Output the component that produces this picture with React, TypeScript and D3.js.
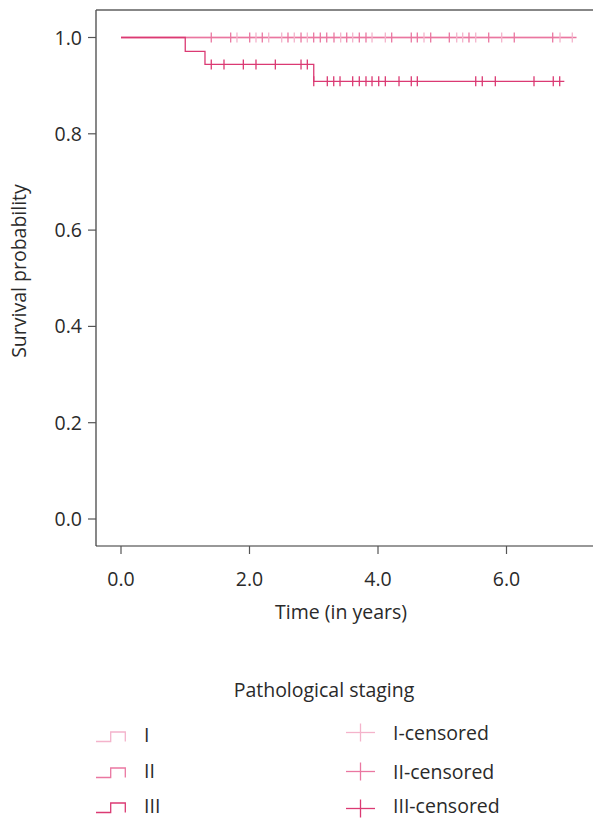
import React from "react";
import * as d3 from "d3";

// ---- data ----
const stageNames = ["I", "II", "III"];
const stageColors = ["#f4b3cb", "#ea77a1", "#db3a73"];

// step changes: [time, survival after]
const stageISteps: [number, number][] = [[0, 1.0]];
const stageIISteps: [number, number][] = [[0, 1.0]];
const stageIIISteps: [number, number][] = [
  [0, 1.0],
  [1.0, 0.971],
  [1.307, 0.944],
  [3.0, 0.909],
];
const stageEnd = [7.024, 7.09, 6.9];

const stageICensored = [
  1.805, 2.101, 2.299, 2.501, 2.697, 2.9, 3.419, 3.606, 3.907, 4.114, 4.716,
  5.225, 5.318, 5.521, 5.925, 6.833, 7.024,
];
const stageIICensored = [
  1.405, 1.707, 2.003, 2.199, 2.599, 2.802, 2.999, 3.102, 3.202, 3.315, 3.513,
  3.709, 3.813, 4.213, 4.518, 4.612, 4.82, 5.11, 5.416, 5.723, 6.121, 6.719,
];
const stageIIICensored = [
  1.405, 1.603, 1.904, 2.101, 2.402, 2.802, 2.9, 3.0, 3.211, 3.311, 3.409,
  3.606, 3.709, 3.813, 3.907, 4.011, 4.114, 4.327, 4.518, 4.612, 5.521, 5.623,
  5.826, 6.428, 6.728, 6.828,
];

const xTicks = [0, 2, 4, 6];
const yTicks = [0, 0.2, 0.4, 0.6, 0.8, 1.0];

const FONT = "'Open Sans', 'Noto Sans', sans-serif";
const TXT = "#2a2a2a";

function survAt(steps: [number, number][], t: number) {
  let s = steps[0][1];
  for (const [st, sv] of steps) if (st <= t) s = sv;
  return s;
}

export default function App() {
  const W = 593;
  const H = 819;
  const frame = { left: 96, right: 593, top: 10, bottom: 546 };
  const x = d3.scaleLinear().domain([0, 6]).range([121, 506.5]);
  const y = d3.scaleLinear().domain([0, 1]).range([519, 37.5]);

  const allSteps = [stageISteps, stageIISteps, stageIIISteps];
  const allCens = [stageICensored, stageIICensored, stageIIICensored];

  const line = d3
    .line<[number, number]>()
    .x((d) => x(d[0]))
    .y((d) => y(d[1]))
    .curve(d3.curveStepAfter);

  const paths = allSteps.map((steps, i) => {
    const pts: [number, number][] = steps.map((s) => [s[0], s[1]]);
    pts.push([stageEnd[i], steps[steps.length - 1][1]]);
    return line(pts) || "";
  });

  const fs = 19.5;
  const tstyle: React.CSSProperties = { fontFamily: FONT, fontSize: fs };
  const legendRows = [741.5, 777.5, 812.5];
  const legendMid = [732.5, 771.5, 808.5];

  return (
    <svg
      width={W}
      height={H}
      style={{ position: "absolute", left: 0, top: 0, background: "#fff" }}
    >
      {/* frame */}
      <line x1={frame.left} x2={frame.right} y1={frame.top} y2={frame.top} stroke="#111" strokeWidth={1.2} />
      <line x1={frame.left} x2={frame.left} y1={frame.top} y2={frame.bottom} stroke="#555" strokeWidth={1.4} />
      <line x1={frame.left} x2={frame.right} y1={frame.bottom} y2={frame.bottom} stroke="#333" strokeWidth={1.2} />

      {/* y ticks */}
      {yTicks.map((t) => (
        <g key={"y" + t}>
          <line x1={frame.left - 8} x2={frame.left} y1={y(t)} y2={y(t)} stroke="#555" strokeWidth={1.2} />
          <text x={82} y={y(t)} dy="0.36em" textAnchor="end" style={tstyle} fill={TXT}>
            {t.toFixed(1)}
          </text>
        </g>
      ))}
      {/* x ticks */}
      {xTicks.map((t) => (
        <g key={"x" + t}>
          <line x1={x(t)} x2={x(t)} y1={frame.bottom} y2={frame.bottom + 8} stroke="#555" strokeWidth={1.2} />
          <text x={x(t)} y={586} textAnchor="middle" style={tstyle} fill={TXT}>
            {t.toFixed(1)}
          </text>
        </g>
      ))}

      <text x={341} y={619} textAnchor="middle" style={tstyle} fill={TXT}>
        Time (in years)
      </text>
      <text
        transform={`translate(26,271) rotate(-90)`}
        textAnchor="middle"
        style={tstyle}
        fill={TXT}
      >
        Survival probability
      </text>

      {/* curves */}
      {paths.map((p, i) => (
        <path key={"p" + i} d={p} fill="none" stroke={stageColors[i]} strokeWidth={1.3} />
      ))}
      {allCens.map((cs, i) =>
        cs.map((t, j) => {
          const cx = x(t);
          const cy = y(survAt(allSteps[i], t));
          return (
            <line
              key={`c${i}-${j}`}
              x1={cx}
              x2={cx}
              y1={cy - 5}
              y2={cy + 5}
              stroke={stageColors[i]}
              strokeWidth={1.3}
            />
          );
        })
      )}

      {/* legend */}
      <text x={324} y={697} textAnchor="middle" style={tstyle} fill={TXT}>
        Pathological staging
      </text>
      {stageNames.map((n, i) => {
        const lo = legendRows[i];
        const hi = lo - 9.5;
        return (
          <g key={"l" + i}>
            <path
              d={`M96,${lo}H110.7V${hi}H125.3V${lo}`}
              fill="none"
              stroke={stageColors[i]}
              strokeWidth={1.3}
            />
            <text x={144} y={lo} style={tstyle} fill={TXT}>
              {n}
            </text>
            <line x1={346} x2={375} y1={legendMid[i]} y2={legendMid[i]} stroke={stageColors[i]} strokeWidth={1.3} />
            <line x1={360.5} x2={360.5} y1={legendMid[i] - 9} y2={legendMid[i] + 9} stroke={stageColors[i]} strokeWidth={1.3} />
            <text x={393} y={Math.min(legendMid[i] + 7.5, 813)} style={tstyle} fill={TXT}>
              {`${n}-censored`}
            </text>
          </g>
        );
      })}
    </svg>
  );
}
